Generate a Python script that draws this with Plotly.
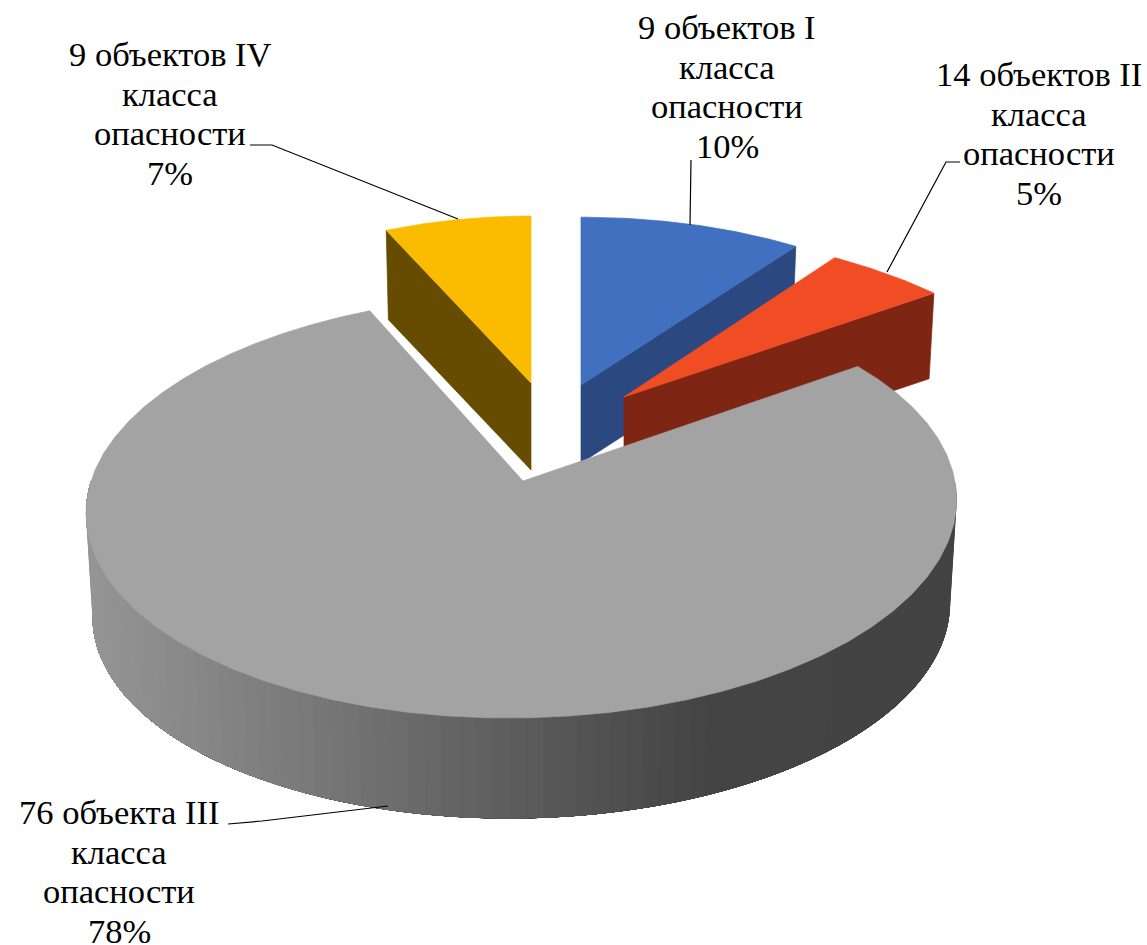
import numpy as np
import plotly.graph_objects as go

categories = ["9 объектов I<br>класса<br>опасности", "14 объектов II<br>класса<br>опасности",
              "76 объекта III<br>класса<br>опасности", "9 объектов IV<br>класса<br>опасности"]
percent = [10, 5, 78, 7]

top_colors = ["#4270c0", "#f14d25", "#a3a3a3", "#fbbc00"]
wall_colors = ["#2c4880", "#7e2513", None, "#654c00"]
# apex x, apex y, A, B, depth, shear
shape = [(581, 385, 401, 188, 78, 0), (624, 397, 428, 189, 84, -23),
         (523, 481, 432, 208.6, 104, 14), (531, 383, 377, 187, 87, 0)]
# centre x and first-line y of each label
label_pos = [(727, 27), (1039, 74), (119, 812), (170, 54)]
LINE_STEP = 39.7
leaders = [([691, 690], [160, 225]), ([960, 946, 887], [162, 162, 272]),
           ([228, 262, 388], [824, 821, 806]), ([250, 272, 458], [145, 145, 219])]
K = 0.12
grad_x = [90, 300, 520, 700, 950]
grad_v = [0x95, 0x7a, 0x5c, 0x45, 0x43]


def ring(theta, s, scale=1.0, z=0.0):
    ax, ay, A, B, depth, shear = s
    u, v = np.sin(theta), np.cos(theta)
    w = 1 + K * v
    return ax + scale * A * u / w + shear * v, ay + z * depth - scale * B * v / w


fig = go.Figure()


def poly(x, y, color, lw=0.7):
    fig.add_trace(go.Scatter(x=list(x), y=list(y), mode="lines", fill="toself", fillcolor=color,
                             line=dict(color=color, width=lw), hoverinfo="skip", showlegend=False))


edges = np.cumsum([0] + percent) / sum(percent) * 2 * np.pi
spans = list(zip(edges[:-1], edges[1:]))


def wedge(i):
    a, b = spans[i]
    s = shape[i]
    th = np.linspace(a, b, 60)
    x, y = ring(th, s)
    return np.r_[s[0], x, s[0]], np.r_[s[1], y, s[1]]


def cut_wall(i, th):
    s = shape[i]
    ex, ey = ring(np.array([th]), s)
    bx, by = ring(np.array([th]), s, 0.985, 1)
    ax, ay = s[0], s[1]
    poly([ax, ex[0], bx[0], ax, ax], [ay, ey[0], by[0], ay + s[4], ay], wall_colors[i])


# back slices: walls then tops
cut_wall(3, spans[3][0])
poly(*wedge(3), top_colors[3])
cut_wall(0, spans[0][1])
poly(*wedge(0), top_colors[0])
cut_wall(1, spans[1][1])
poly(*wedge(1), top_colors[1])

# front slice: shaded rim painted band over band, then top
g = shape[2]
ths = np.linspace(np.pi * 0.5, np.pi * 1.5, 91)
for t0, t1 in zip(ths[:-1], ths[1:]):
    tt = np.linspace(t0, ths[-1], 50)
    x1, y1 = ring(tt, g)
    x2, y2 = ring(tt[::-1], g, 0.985, 1)
    xm = ring(np.array([(t0 + t1) / 2]), g)[0][0]
    lvl = int(np.interp(xm, grad_x, grad_v))
    poly(np.r_[x1, x2, x1[0]], np.r_[y1, y2, y1[0]], f"rgb({lvl},{lvl},{lvl})", lw=0)
poly(*wedge(2), top_colors[2])

for lx, ly in leaders:
    fig.add_trace(go.Scatter(x=lx, y=ly, mode="lines", line=dict(color="black", width=1.2),
                             hoverinfo="skip", showlegend=False))

for c, p, (x, y) in zip(categories, percent, label_pos):
    for n, part in enumerate(c.split("<br>") + [f"{p}%"]):
        fig.add_annotation(x=x, y=y + n * LINE_STEP, text=part, showarrow=False, align="center",
                           xanchor="center", yanchor="middle",
                           font=dict(family="Liberation Serif", size=34.5, color="black"))

fig.update_layout(width=1147, height=945, margin=dict(l=0, r=0, t=0, b=0),
                  paper_bgcolor="white", plot_bgcolor="white", showlegend=False,
                  xaxis=dict(range=[0, 1147], visible=False, fixedrange=True),
                  yaxis=dict(range=[945, 0], visible=False, fixedrange=True))
fig.write_html("out.html", config={"displayModeBar": False},
               post_script="document.body.style.margin='0';document.body.style.overflow='hidden';")
